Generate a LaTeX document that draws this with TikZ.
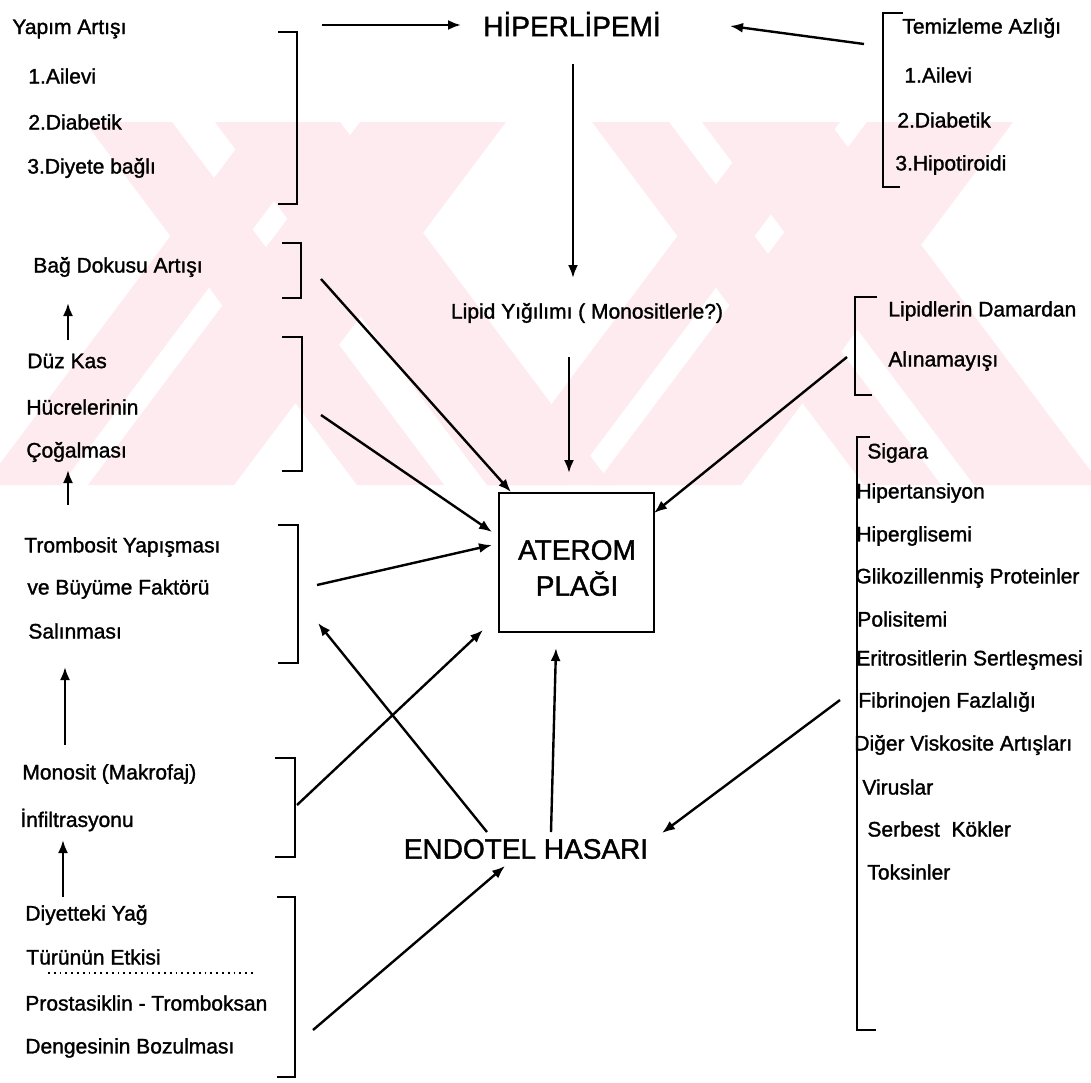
\documentclass[tikz,border=0pt]{standalone}
\usepackage{fontspec}
\setmainfont{Liberation Sans}[FakeBold=1.4]
\usetikzlibrary{arrows.meta}
\definecolor{wm}{RGB}{253,235,239}
\begin{document}
\begin{tikzpicture}[x=0.5pt,y=-0.5pt,
  lbl/.style={anchor=west,inner sep=0pt,font=\fontsize{10.5}{12}\selectfont},
  head/.style={inner sep=0pt,font=\fontsize{14}{17}\selectfont},
  brk/.style={line width=1.2pt},
  arr/.style={line width=1.2pt,-{Latex[length=6.5pt,width=5pt]}}]
\useasboundingbox (0,0) rectangle (1091,1082);
\fill[white] (0,0) rectangle (1091,1082);

% background emblem: diagonal pink bands
\foreach \a/\b in {85/172,215/340,592/669,702/829}
  \fill[wm] (\a,122) -- (\b,122) -- (\b+272,485) -- (\a+272,485) -- cycle;
\foreach \a/\b in {256/333,360/506,763/840,867/1013}
  \fill[wm] (\a,122) -- (\b,122) -- (\b-272,485) -- (\a-272,485) -- cycle;

% left column
\node[lbl] (ya) at (12,29) {Yapım Artışı};
\node[lbl] (ya1) at (28,76) {1.Ailevi};
\node[lbl] (ya2) at (28,122) {2.Diabetik};
\node[lbl] (ya3) at (27,168) {3.Diyete bağlı};
\node[lbl] (bag) at (33,267) {Bağ Dokusu Artışı};
\node[lbl] (dk1) at (27,361) {Düz Kas};
\node[lbl] (dk2) at (26,407) {Hücrelerinin};
\node[lbl] (dk3) at (26,452) {Çoğalması};
\node[lbl] (tr1) at (24,547) {Trombosit Yapışması};
\node[lbl] (tr2) at (27,589) {ve Büyüme Faktörü};
\node[lbl] (tr3) at (28,631) {Salınması};
\node[lbl] (mo1) at (22,774) {Monosit (Makrofaj)};
\node[lbl] (mo2) at (20,820) {İnfiltrasyonu};
\node[lbl] (dy1) at (25,915) {Diyetteki Yağ};
\node[lbl] (dy2) at (26,957) {Türünün Etkisi};
\node[lbl] (dy3) at (25,1003) {Prostasiklin - Tromboksan};
\node[lbl] (dy4) at (25,1048) {Dengesinin Bozulması};
\draw[line width=0.9pt,dotted] (48,973) -- (255,973);

% left brackets
\draw[brk] (278,32) -- (297,32) -- (297,204) -- (278,204);
\draw[brk] (282,243) -- (301,243) -- (301,298) -- (282,298);
\draw[brk] (282,337) -- (302,337) -- (302,471) -- (282,471);
\draw[brk] (278,525) -- (298,525) -- (298,663) -- (278,663);
\draw[brk] (275,758) -- (295,758) -- (295,857) -- (275,857);
\draw[brk] (277,897) -- (295,897) -- (295,1077) -- (277,1077);

% right column
\node[lbl] (tz) at (902,28) {Temizleme Azlığı};
\node[lbl] (tz1) at (904,75) {1.Ailevi};
\node[lbl] (tz2) at (897,120) {2.Diabetik};
\node[lbl] (tz3) at (895,165) {3.Hipotiroidi};
\node[lbl] (ld1) at (888,311) {Lipidlerin Damardan};
\node[lbl] (ld2) at (888,361) {Alınamayışı};
\node[lbl] (r1) at (867,453) {Sigara};
\node[lbl] (r2) at (856,493) {Hipertansiyon};
\node[lbl] (r3) at (856,536) {Hiperglisemi};
\node[lbl] (r4) at (855,578) {Glikozillenmiş Proteinler};
\node[lbl] (r5) at (857,619) {Polisitemi};
\node[lbl] (r6) at (856,660) {Eritrositlerin Sertleşmesi};
\node[lbl] (r7) at (858,702) {Fibrinojen Fazlalığı};
\node[lbl] (r8) at (854,745) {Diğer Viskosite Artışları};
\node[lbl] (r9) at (862,787) {Viruslar};
\node[lbl] (r10) at (867,829) {Serbest\ \ Kökler};
\node[lbl] (r11) at (867,872) {Toksinler};

% right brackets
\draw[brk] (903,13) -- (883,13) -- (883,187) -- (900,187);
\draw[brk] (877,297) -- (855,297) -- (855,395) -- (872,395);
\draw[brk] (870,437) -- (857,437) -- (857,1030) -- (876,1030);

% centre
\node[head] (hl) at (572,24) {HİPERLİPEMİ};
\node[lbl,anchor=center] (lp) at (587,313) {Lipid Yığılımı ( Monositlerle?)};
\node[draw,line width=1.2pt,minimum width=77.5pt,minimum height=69.5pt,inner sep=0pt] (ap) at (576.5,562.5) {};
\node[head,align=center] (apt) at (577,568) {ATEROM\\[1pt]PLAĞI};
\node[head] (eh) at (526,849) {ENDOTEL HASARI};

% arrow end points
\coordinate (a1s) at (322,25);   \coordinate (a1e) at (461,25);
\coordinate (a2s) at (864,44);   \coordinate (a2e) at (730,26);
\coordinate (a3s) at (573,64);   \coordinate (a3e) at (573,278);
\coordinate (a4s) at (569,357);  \coordinate (a4e) at (569,473);
\coordinate (a5s) at (321,279);  \coordinate (a5e) at (511,492);
\coordinate (a6s) at (321,415);  \coordinate (a6e) at (492,532);
\coordinate (a7s) at (317,585);  \coordinate (a7e) at (492,545);
\coordinate (a8s) at (297,805);  \coordinate (a8e) at (483,630);
\coordinate (a9s) at (487,832);  \coordinate (a9e) at (318,623);
\coordinate (a10s) at (551,832); \coordinate (a10e) at (556,648);
\coordinate (a11s) at (840,700); \coordinate (a11e) at (662,833);
\coordinate (a12s) at (847,357); \coordinate (a12e) at (654,513);
\coordinate (a13s) at (313,1030); \coordinate (a13e) at (505,866);
\coordinate (u1s) at (68,340); \coordinate (u1e) at (68,303);
\coordinate (u2s) at (68,505); \coordinate (u2e) at (68,470);
\coordinate (u3s) at (65,745); \coordinate (u3e) at (65,667);
\coordinate (u4s) at (63,897); \coordinate (u4e) at (63,840);

\foreach \n in {a1,a2,a3,a4,a5,a6,a7,a8,a9,a10,a11,a12,a13,u1,u2,u3,u4}
  \draw[arr] (\n s) -- (\n e);
\end{tikzpicture}
\end{document}
